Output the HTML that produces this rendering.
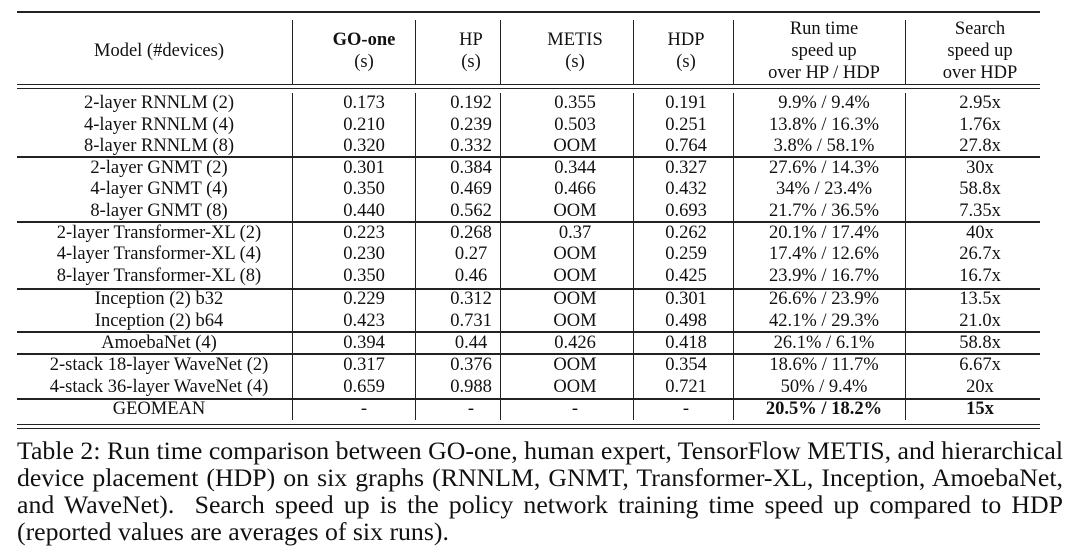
<!DOCTYPE html>
<html><head><meta charset="utf-8">
<style>
body{margin:0;background:#fff;width:1074px;height:556px;overflow:hidden;position:relative;font-family:"Liberation Serif",serif;color:#111}
.t{position:absolute;white-space:nowrap;font-size:18.5px;transform:translate(-50%,-50%);line-height:1}
.h{position:absolute;background:#222}
.v{position:absolute;background:#222;width:1.3px}
.cap{position:absolute;left:17px;width:1046px;font-size:25.8px;line-height:27px;top:437px}
.cap div{text-align:justify;text-align-last:justify;white-space:nowrap;height:27px}
.cap div.last{text-align-last:left}
b{font-weight:bold}
</style></head><body>
<div id="tbl"></div>
<div class="cap" id="cap">
<div>Table 2: Run time comparison between GO-one, human expert, TensorFlow METIS, and hierarchical</div>
<div>device placement (HDP) on six graphs (RNNLM, GNMT, Transformer-XL, Inception, AmoebaNet,</div>
<div>and WaveNet). &nbsp;Search speed up is the policy network training time speed up compared to HDP</div>
<div class="last">(reported values are averages of six runs).</div>
</div>
<script>
const models=["2-layer RNNLM (2)","4-layer RNNLM (4)","8-layer RNNLM (8)","2-layer GNMT (2)","4-layer GNMT (4)","8-layer GNMT (8)","2-layer Transformer-XL (2)","4-layer Transformer-XL (4)","8-layer Transformer-XL (8)","Inception (2) b32","Inception (2) b64","AmoebaNet (4)","2-stack 18-layer WaveNet (2)","4-stack 36-layer WaveNet (4)","GEOMEAN"];
const goone=["0.173","0.210","0.320","0.301","0.350","0.440","0.223","0.230","0.350","0.229","0.423","0.394","0.317","0.659","-"];
const hp=["0.192","0.239","0.332","0.384","0.469","0.562","0.268","0.27","0.46","0.312","0.731","0.44","0.376","0.988","-"];
const metis=["0.355","0.503","OOM","0.344","0.466","OOM","0.37","OOM","OOM","OOM","OOM","0.426","OOM","OOM","-"];
const hdp=["0.191","0.251","0.764","0.327","0.432","0.693","0.262","0.259","0.425","0.301","0.498","0.418","0.354","0.721","-"];
const runtime=["9.9% / 9.4%","13.8% / 16.3%","3.8% / 58.1%","27.6% / 14.3%","34% / 23.4%","21.7% / 36.5%","20.1% / 17.4%","17.4% / 12.6%","23.9% / 16.7%","26.6% / 23.9%","42.1% / 29.3%","26.1% / 6.1%","18.6% / 11.7%","50% / 9.4%","20.5% / 18.2%"];
const search=["2.95x","1.76x","27.8x","30x","58.8x","7.35x","40x","26.7x","16.7x","13.5x","21.0x","58.8x","6.67x","20x","15x"];
const T=document.getElementById('tbl');
const cx=[159,364,471,575,686,824,980];
const rowY=[102,124,145,167,188,210,232,253,275,298,320,342,364,386,408];
function txt(x,y,s,bold,name){const d=document.createElement('div');d.className='t';d.style.left=x+'px';d.style.top=(y+1)+'px';if(bold)d.style.fontWeight='bold';d.innerHTML=s;


T.appendChild(d);}
function hl(y,h,name){const d=document.createElement('div');d.className='h';d.style.left='17px';d.style.width='1023px';d.style.top=y+'px';d.style.height=h+'px';


T.appendChild(d);}
function vl(x,y1,y2){const d=document.createElement('div');d.className='v';d.style.left=x+'px';d.style.top=y1+'px';d.style.height=(y2-y1)+'px';


T.appendChild(d);}
const heads=[["Model (#devices)"],["<b>GO-one</b>","(s)"],["HP","(s)"],["METIS","(s)"],["HDP","(s)"],["Run time","speed up","over HP / HDP"],["Search","speed up","over HDP"]];
heads.forEach((h,i)=>{const n=h.length;h.forEach((s,j)=>{txt(cx[i],50+(j-(n-1)/2)*22,s,false,'header-cell');});});
const cols=[models,goone,hp,metis,hdp,runtime,search];
rowY.forEach((y,r)=>{cols.forEach((c,i)=>{txt(cx[i],y,c[r],r==14&&i>=5,'cell-'+(i==0?'model':'value'));});});
hl(11,2.2,'top-rule');hl(84,1.3,'header-rule');hl(87.5,1.3,'header-rule-2');
[156,221,288,331,353,398].forEach(y=>hl(y,1.5,'group-separator'));
hl(424,1.3,'bottom-rule');hl(427.5,1.5,'bottom-rule-2');
const vx=[292,415,500,633,733,905];
vx.forEach(x=>{vl(x,20,84);vl(x,93,420);});
// shrink caption lines that overflow
document.querySelectorAll('#cap div').forEach(dv=>{
  let ls=0;
  while(dv.scrollWidth>1046 && ls>-2){ls-=0.05;dv.style.letterSpacing=ls+'px';}
});
</script>
</body></html>
